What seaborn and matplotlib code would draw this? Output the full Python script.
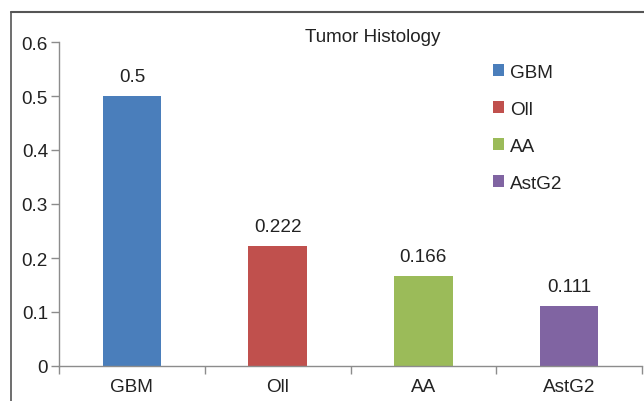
import matplotlib
matplotlib.use("Agg")
import matplotlib.pyplot as plt
import pandas as pd
import seaborn as sns
from matplotlib.patches import Patch
from matplotlib.lines import Line2D

categories = ["GBM", "Oll", "AA", "AstG2"]
values = [0.5, 0.222, 0.166, 0.111]
value_labels = ["0.5", "0.222", "0.166", "0.111"]
colors = ["#4A7EBB", "#C0504D", "#9BBB59", "#8064A2"]
y_ticks = [0, 0.1, 0.2, 0.3, 0.4, 0.5, 0.6]
y_tick_labels = ["0", "0.1", "0.2", "0.3", "0.4", "0.5", "0.6"]

sns.set_theme(style="white")
plt.rcParams["font.family"] = ["Liberation Sans", "DejaVu Sans"]
FS = 13.6
W, H = 644, 402

df = pd.DataFrame({"Histology": categories, "Value": values})

fig = plt.figure(figsize=(W / 100, H / 100), dpi=100)
ax = fig.add_axes([59 / W, 1 - 367 / H, (642 - 59) / W, (367 - 43) / H])

sns.barplot(data=df, x="Histology", y="Value", hue="Histology",
            palette=colors, width=0.4, dodge=False, legend=False,
            saturation=1, linewidth=0, ax=ax)

for cont, lab in zip(ax.containers, value_labels):
    ax.bar_label(cont, labels=[lab], padding=8, fontsize=FS, color="#222222")

ax.set_xlim(-0.5, 3.5)
ax.set_ylim(0, 0.6)
ax.set_yticks(y_ticks)
ax.set_yticklabels(y_tick_labels, fontsize=FS, color="#222222")
ax.set_xticks(range(len(categories)))
ax.set_xticklabels(categories, fontsize=FS, color="#222222")
ax.set_xticks([i - 0.5 for i in range(len(categories) + 1)], minor=True)
ax.tick_params(axis="x", which="major", bottom=True, length=0, pad=9)
ax.tick_params(axis="x", which="minor", bottom=True, length=6, width=1,
               color="#8c8c8c", direction="out")
ax.tick_params(axis="y", which="major", left=True, length=6, width=1,
               color="#8c8c8c", direction="out", pad=2)
ax.set_xlabel("")
ax.set_ylabel("")
for s in ["top", "right"]:
    ax.spines[s].set_visible(False)
for s in ["left", "bottom"]:
    ax.spines[s].set_color("#8c8c8c")
    ax.spines[s].set_linewidth(1)

fig.text(373 / W, 1 - 37 / H, "Tumor Histology", fontsize=FS, color="#222222",
         ha="center", va="center")

handles = [Patch(facecolor=c, edgecolor="none") for c in colors]
fig.legend(handles, categories, loc="upper left",
           bbox_to_anchor=(485 / W, 1 - 57 / H), frameon=False, fontsize=FS,
           handlelength=0.62, handleheight=0.62, handletextpad=0.3,
           labelspacing=1.06, borderaxespad=0, labelcolor="#222222")

# outer chart border (top and left visible)
fig.add_artist(Line2D([11 / W, 1.0], [1 - 12.5 / H, 1 - 12.5 / H],
                      transform=fig.transFigure, color="#555555", lw=1.5))
fig.add_artist(Line2D([11 / W, 11 / W], [1 - 12.5 / H, 0.0],
                      transform=fig.transFigure, color="#555555", lw=1.2))

fig.savefig("out.png", dpi=100)
